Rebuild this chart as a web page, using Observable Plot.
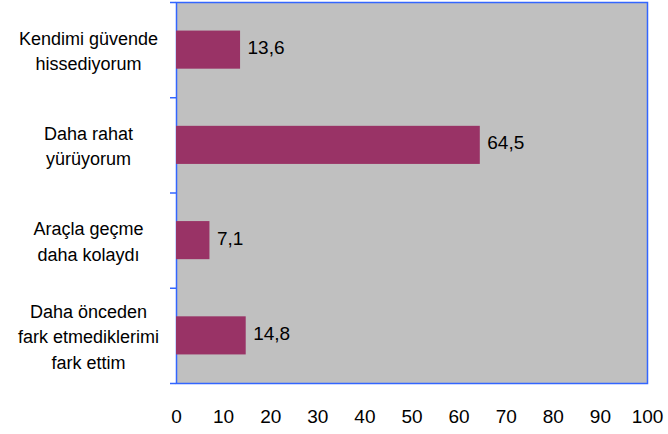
<!DOCTYPE html>
<html>
<head>
<meta charset="utf-8">
<script src="https://cdn.jsdelivr.net/npm/d3@7"></script>
<script src="https://cdn.jsdelivr.net/npm/@observablehq/plot@0.6"></script>
<style>
  html, body { margin: 0; padding: 0; background: white; }
</style>
</head>
<body>
<div id="chart"></div>
<script>
const categories = [
  "Kendimi güvende\nhissediyorum",
  "Daha rahat\nyürüyorum",
  "Araçla geçme\ndaha kolaydı",
  "Daha önceden\nfark etmediklerimi\nfark ettim"
];
const values = [13.6, 64.5, 7.1, 14.8];
const valueLabels = ["13,6", "64,5", "7,1", "14,8"];
const xTicks = [0, 10, 20, 30, 40, 50, 60, 70, 80, 90, 100];

const data = categories.map((c, i) => ({category: c, value: values[i], label: valueLabels[i], i}));
const boundaries = d3.range(categories.length + 1);

const chart = Plot.plot({
  width: 668,
  height: 434,
  marginLeft: 176,
  marginRight: 21,
  marginTop: 2,
  marginBottom: 51,
  style: {fontFamily: "'Liberation Sans', Arial, sans-serif", fontSize: "18px", background: "white", color: "black"},
  x: {domain: [0, 100], axis: null, label: null},
  y: {domain: [0, categories.length], reverse: true, axis: null, label: null},
  marks: [
    Plot.frame({fill: "#c0c0c0", stroke: "#3366ff", strokeWidth: 1.5}),
    Plot.rectX(data, {x1: 0, x2: "value", y1: d => d.i + 0.3, y2: d => d.i + 0.7, fill: "#993366"}),
    Plot.text(data, {x: "value", y: d => d.i + 0.5, text: "label", textAnchor: "start", dx: 7, dy: -2, fontSize: 19, fill: "black"}),
    Plot.text(data, {frameAnchor: "left", y: d => d.i + 0.5, text: "category", textAnchor: "middle", dx: -88, dy: -1, lineHeight: 1.42, fontSize: 18, fill: "black"}),
    Plot.axisY(boundaries, {tickSize: 6, text: null, label: null, stroke: "#3366ff", strokeWidth: 1.5, strokeOpacity: 1}),
    Plot.axisX(xTicks, {tickSize: 0, tickPadding: 26, label: null, fontSize: 19, fill: "black"})
  ]
});
document.getElementById("chart").appendChild(chart);
</script>
</body>
</html>
